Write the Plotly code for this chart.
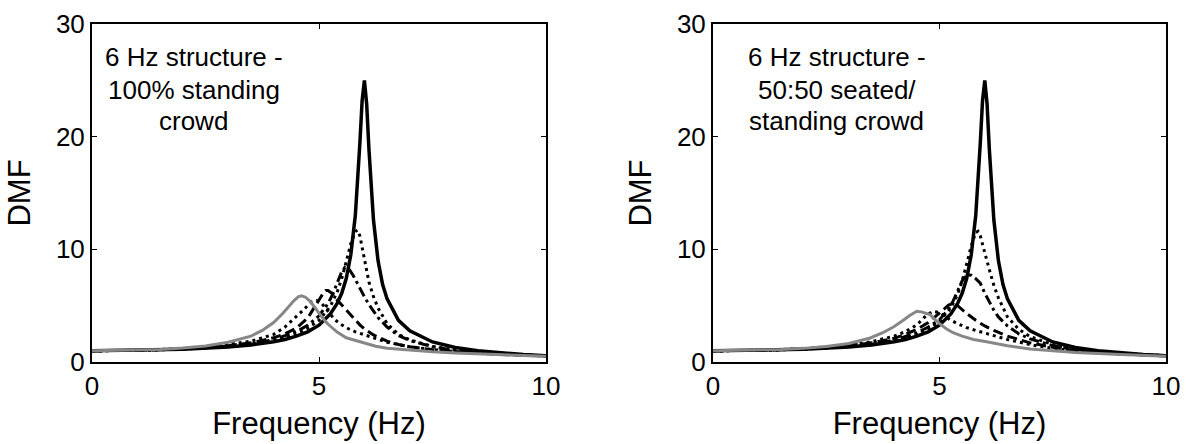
import plotly.graph_objects as go

# ---------------- data ----------------
# empty 6 Hz structure (solid black), same in both panels
f_empty = [0, 1, 2, 3, 3.5, 4, 4.25, 4.5, 4.75, 5, 5.25, 5.4, 5.5, 5.6, 5.7, 5.8, 5.85, 5.9, 5.95, 6.0, 6.05, 6.1, 6.2, 6.3, 6.4, 6.5, 6.75, 7, 7.5, 8, 8.5, 9, 9.5, 10]
d_empty = [1.0, 1.03, 1.13, 1.33, 1.51, 1.8, 2.0, 2.29, 2.68, 3.27, 4.26, 5.2, 6.1, 7.4, 9.5, 13.0, 15.8, 19.4, 23.2, 25.0, 22.9, 18.9, 12.6, 9.0, 6.9, 5.6, 3.7, 2.76, 1.78, 1.29, 0.99, 0.8, 0.66, 0.56]

# left panel: 100% standing crowd
fL2 = [0, 1, 2, 3, 3.5, 4, 4.5, 4.75, 5, 5.25, 5.4, 5.5, 5.6, 5.7, 5.8, 5.85, 5.9, 5.95, 6.0, 6.05, 6.1, 6.2, 6.3, 6.5, 6.75, 7, 7.5, 8, 9, 10]
dL2 = [1.0, 1.03, 1.14, 1.37, 1.57, 1.9, 2.5, 3.0, 3.7, 4.95, 6.2, 7.4, 8.9, 10.5, 11.6, 11.7, 11.2, 10.2, 8.9, 7.9, 7.1, 5.8, 4.8, 3.4, 2.45, 1.97, 1.38, 1.06, 0.71, 0.54]
fL3 = [0, 1, 2, 3, 3.5, 4, 4.5, 4.75, 5, 5.2, 5.3, 5.4, 5.5, 5.57, 5.65, 5.75, 5.85, 6.0, 6.1, 6.2, 6.3, 6.5, 6.75, 7, 7.5, 8, 9, 10]
dL3 = [1.0, 1.03, 1.15, 1.4, 1.62, 1.98, 2.7, 3.25, 4.1, 5.2, 6.0, 7.0, 8.0, 8.4, 8.3, 7.7, 6.9, 5.8, 5.1, 4.5, 3.95, 3.1, 2.35, 1.9, 1.35, 1.05, 0.72, 0.55]
fL4 = [0, 1, 2, 3, 3.5, 4, 4.25, 4.5, 4.75, 4.9, 5.0, 5.1, 5.15, 5.2, 5.3, 5.4, 5.5, 5.6, 5.7, 5.8, 5.9, 6.0, 6.2, 6.5, 6.75, 7, 7.5, 8, 9, 10]
dL4 = [1.0, 1.03, 1.16, 1.45, 1.7, 2.15, 2.5, 3.0, 3.9, 4.8, 5.5, 6.15, 6.35, 6.35, 6.05, 5.5, 5.05, 4.6, 4.15, 3.7, 3.3, 2.95, 2.4, 1.85, 1.55, 1.35, 1.08, 0.9, 0.67, 0.53]
fL5 = [0, 1, 2, 3, 3.5, 4, 4.25, 4.5, 4.65, 4.75, 4.85, 4.95, 5.05, 5.15, 5.25, 5.35, 5.5, 5.65, 5.8, 6.0, 6.25, 6.5, 7, 7.5, 8, 9, 10]
dL5 = [1.0, 1.04, 1.18, 1.55, 1.85, 2.45, 3.1, 4.0, 4.6, 5.0, 5.35, 5.45, 5.25, 4.75, 4.2, 3.75, 3.3, 2.95, 2.68, 2.4, 2.05, 1.75, 1.35, 1.1, 0.92, 0.7, 0.55]
fL6 = [0, 1, 1.5, 2, 2.5, 3, 3.5, 3.75, 4, 4.2, 4.35, 4.45, 4.55, 4.62, 4.7, 4.8, 4.9, 5.0, 5.1, 5.2, 5.4, 5.6, 5.8, 6.0, 6.25, 6.5, 7, 7.5, 8, 9, 10]
dL6 = [1.0, 1.05, 1.12, 1.24, 1.43, 1.75, 2.3, 2.8, 3.5, 4.3, 5.0, 5.45, 5.8, 5.88, 5.75, 5.4, 4.9, 4.3, 3.8, 3.35, 2.65, 2.15, 1.9, 1.65, 1.4, 1.22, 1.03, 0.9, 0.8, 0.65, 0.5]

# right panel: 50:50 seated/standing crowd
fR2 = [0, 1, 2, 3, 3.5, 4, 4.5, 4.75, 5, 5.25, 5.4, 5.5, 5.6, 5.7, 5.8, 5.85, 5.9, 6.0, 6.1, 6.2, 6.3, 6.5, 6.75, 7, 7.5, 8, 9, 10]
dR2 = [1.0, 1.03, 1.14, 1.37, 1.56, 1.88, 2.45, 2.95, 3.6, 4.8, 6.0, 7.2, 8.7, 10.3, 11.5, 11.6, 11.2, 9.6, 8.2, 6.8, 5.7, 4.0, 2.9, 2.25, 1.55, 1.15, 0.75, 0.56]
fR3 = [0, 1, 2, 3, 3.5, 4, 4.5, 4.75, 5, 5.2, 5.3, 5.4, 5.5, 5.6, 5.7, 5.8, 5.9, 6.0, 6.1, 6.2, 6.3, 6.5, 6.75, 7, 7.5, 8, 9, 10]
dR3 = [1.0, 1.03, 1.15, 1.4, 1.6, 1.95, 2.6, 3.1, 3.75, 4.7, 5.4, 6.3, 7.2, 7.75, 7.7, 7.4, 7.0, 6.1, 5.3, 4.6, 4.0, 3.2, 2.5, 2.05, 1.45, 1.1, 0.74, 0.56]
fR4 = [0, 1, 2, 3, 3.5, 4, 4.25, 4.5, 4.75, 5.0, 5.1, 5.2, 5.3, 5.4, 5.5, 5.6, 5.8, 6.0, 6.2, 6.5, 7, 7.5, 8, 9, 10]
dR4 = [1.0, 1.03, 1.16, 1.45, 1.7, 2.1, 2.45, 2.9, 3.5, 4.3, 4.7, 5.05, 5.2, 5.0, 4.65, 4.3, 3.7, 3.2, 2.8, 2.3, 1.7, 1.3, 1.02, 0.72, 0.55]
fR5 = [0, 1, 2, 3, 3.5, 4, 4.25, 4.5, 4.7, 4.85, 5.0, 5.1, 5.23, 5.4, 5.6, 5.8, 6.0, 6.26, 6.5, 7, 7.5, 8, 9, 10]
dR5 = [1.0, 1.04, 1.18, 1.5, 1.8, 2.3, 2.7, 3.3, 4.1, 4.5, 4.4, 4.1, 3.75, 3.4, 3.05, 2.8, 2.55, 2.27, 2.0, 1.55, 1.2, 0.97, 0.7, 0.55]
fR6 = [0, 1, 1.5, 2, 2.5, 3, 3.47, 3.75, 4, 4.2, 4.35, 4.5, 4.6, 4.79, 5.0, 5.15, 5.3, 5.5, 5.75, 6.04, 6.5, 7, 7.5, 8, 9, 10]
dR6 = [1.0, 1.05, 1.11, 1.21, 1.38, 1.65, 2.13, 2.6, 3.15, 3.7, 4.15, 4.5, 4.45, 4.2, 3.4, 2.95, 2.6, 2.3, 2.0, 1.8, 1.45, 1.15, 0.98, 0.85, 0.67, 0.52]

x_ticks = [0, 5, 10]
y_ticks = [0, 10, 20, 30]
lines_left = ["6 Hz structure -", "100% standing", "crowd"]
lines_right = ["6 Hz structure -", "50:50 seated/", "standing crowd"]
line_y = [27.05, 24.15, 21.4]

# ---------------- styles ----------------
BLACK = "black"
GREY = "rgb(135,135,135)"
styles = [
    dict(color=BLACK, width=3.5, dash="solid"),
    dict(color=BLACK, width=3, dash="3px,4px"),
    dict(color=BLACK, width=3, dash="10px,4px,3px,4px"),
    dict(color=BLACK, width=3, dash="10px,5px"),
    dict(color=BLACK, width=3, dash="3px,4px"),
    dict(color=GREY, width=3, dash="solid"),
]

panels = [
    ("x", "y", [(f_empty, d_empty), (fL2, dL2), (fL3, dL3), (fL4, dL4), (fL5, dL5), (fL6, dL6)]),
    ("x2", "y2", [(f_empty, d_empty), (fR2, dR2), (fR3, dR3), (fR4, dR4), (fR5, dR5), (fR6, dR6)]),
]

fig = go.Figure()
for xa, ya, curves in panels:
    for (f, d), st in zip(curves, styles):
        fig.add_trace(go.Scatter(x=f, y=d, mode="lines", line=st,
                                 xaxis=xa, yaxis=ya, showlegend=False,
                                 hoverinfo="skip"))

W, H = 1193, 444
ML, MR, MT, MB = 92, W - 1166, 24, H - 362
PW = W - ML - MR
FONT = "Arial, Liberation Sans, Helvetica, sans-serif"
axis_common = dict(showline=True, linecolor="black", linewidth=2, mirror="ticks",
                   ticks="inside", ticklen=5, tickwidth=1, tickcolor="black",
                   showgrid=False, zeroline=False, automargin=False,
                   tickfont=dict(family=FONT, size=26, color="black"))

xdomL = [0, (546 - ML) / PW]
xdomR = [(713 - ML) / PW, 1]

annotations = []
for xr, yr, xc, lines in (("x", "y", 2.24, lines_left), ("x2", "y2", 2.73, lines_right)):
    for txt, yy in zip(lines, line_y):
        annotations.append(dict(text=txt, x=xc, y=yy, xref=xr, yref=yr, showarrow=False,
                                xanchor="center", yanchor="middle",
                                font=dict(family=FONT, size=26, color="black")))

fig.update_layout(
    width=W, height=H, autosize=False,
    margin=dict(l=ML, r=MR, t=MT, b=MB, pad=0),
    paper_bgcolor="white", plot_bgcolor="white",
    font=dict(family=FONT, size=26, color="black"),
    xaxis=dict(domain=xdomL, range=[0, 10], tickvals=x_ticks, anchor="y",
               title=dict(text="Frequency (Hz)", standoff=12), **axis_common),
    yaxis=dict(domain=[0, 1], range=[0, 30], tickvals=y_ticks, anchor="x",
               title=dict(text="DMF", standoff=16), **axis_common),
    xaxis2=dict(domain=xdomR, range=[0, 10], tickvals=x_ticks, anchor="y2",
                title=dict(text="Frequency (Hz)", standoff=12), **axis_common),
    yaxis2=dict(domain=[0, 1], range=[0, 30], tickvals=y_ticks, anchor="x2",
                title=dict(text="DMF", standoff=16), **axis_common),
    annotations=annotations,
)

fig.write_html("out.html")
